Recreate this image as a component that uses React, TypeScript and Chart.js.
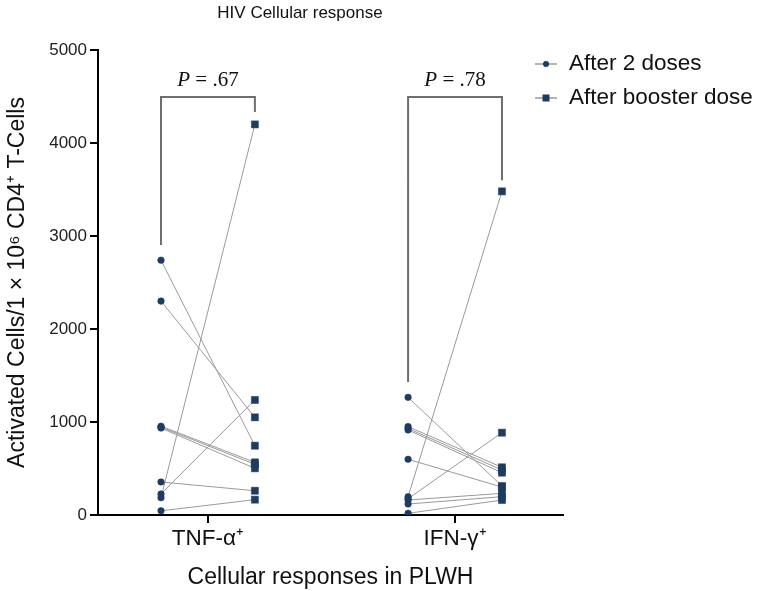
import { useEffect, useRef } from "react";
import { Chart, registerables } from "chart.js";

Chart.register(...registerables);

const categories = ["TNF-α⁺", "IFN-γ⁺"];
const categoryPositions = [1, 2];
const tnfAfter2Doses = [2740, 2300, 955, 945, 935, 355, 226, 186, 45];
const tnfAfterBooster = [745, 1050, 566, 545, 502, 261, 1237, 4200, 165];
const ifnAfter2Doses = [1265, 950, 930, 914, 599, 197, 175, 161, 118, 18];
const ifnAfterBooster = [312, 513, 484, 455, 300, 3480, 885, 233, 197, 161];
const pValueLabels = [".67", ".78"];
const bracketTop = [4495, 4495];
const bracketLeftEnd = [2903, 1430];
const bracketRightEnd = [4333, 3600];
const yTicks = [0, 1000, 2000, 3000, 4000, 5000];
const seriesNames = ["After 2 doses", "After booster dose"];
const chartTitle = "HIV Cellular response";
const xTitle = "Cellular responses in PLWH";
const yTitle = "Activated Cells/1 × 10⁶ CD4⁺ T-Cells";

const SANS = "'Liberation Sans', Arial, sans-serif";
const SERIF = "'Liberation Serif', 'Times New Roman', serif";
const NAVY = "#1d3c62";
const LINE_GREY = "#9a9a9a";
const BRACKET_GREY = "#6e6e6e";
const OFFSET = 0.19;

const groups = [
  { before: tnfAfter2Doses, after: tnfAfterBooster },
  { before: ifnAfter2Doses, after: ifnAfterBooster },
];

const overlayPlugin = {
  id: "overlay",
  afterDraw(chart: any) {
    const ctx = chart.ctx as CanvasRenderingContext2D;
    const xs = chart.scales.x;
    const ys = chart.scales.y;
    ctx.save();
    // title
    ctx.fillStyle = "#111";
    ctx.font = `17px ${SANS}`;
    ctx.textAlign = "center";
    ctx.textBaseline = "middle";
    ctx.fillText(chartTitle, 300, 13);
    // P labels
    ctx.textAlign = "left";
    ctx.textBaseline = "alphabetic";
    pValueLabels.forEach((lab, i) => {
      const cx = xs.getPixelForValue(categoryPositions[i]);
      const y = ys.getPixelForValue(bracketTop[i]) - 11;
      ctx.font = `italic 21px ${SERIF}`;
      const wP = ctx.measureText("P").width;
      ctx.font = `21px ${SERIF}`;
      const rest = " = " + lab;
      const wR = ctx.measureText(rest).width;
      const x0 = cx - (wP + wR) / 2;
      ctx.font = `italic 21px ${SERIF}`;
      ctx.fillText("P", x0, y);
      ctx.font = `21px ${SERIF}`;
      ctx.fillText(rest, x0 + wP, y);
    });
    // legend
    const legendYs = [64, 98];
    seriesNames.forEach((name, i) => {
      const y = legendYs[i];
      ctx.strokeStyle = LINE_GREY;
      ctx.lineWidth = 1.5;
      ctx.beginPath();
      ctx.moveTo(535, y);
      ctx.lineTo(557, y);
      ctx.stroke();
      ctx.fillStyle = NAVY;
      if (i === 0) {
        ctx.beginPath();
        ctx.arc(546, y, 3, 0, Math.PI * 2);
        ctx.fill();
      } else {
        ctx.fillRect(542.5, y - 3.5, 7, 7);
      }
      ctx.fillStyle = "#111";
      ctx.font = `22.5px ${SANS}`;
      ctx.textAlign = "left";
      ctx.textBaseline = "middle";
      ctx.fillText(name, 569, y);
    });
    ctx.restore();
  },
};

export default function App() {
  const ref = useRef<HTMLCanvasElement | null>(null);

  useEffect(() => {
    document.body.style.margin = "0";
    if (!ref.current) return;

    const pairDatasets: any[] = [];
    const beforePts: any[] = [];
    const afterPts: any[] = [];
    groups.forEach((g, gi) => {
      const c = categoryPositions[gi];
      g.before.forEach((v, i) => {
        const a = g.after[i];
        pairDatasets.push({
          data: [
            { x: c - OFFSET, y: v },
            { x: c + OFFSET, y: a },
          ],
          showLine: true,
          borderColor: LINE_GREY,
          borderWidth: 1,
          pointRadius: 0,
          order: 2,
        });
        beforePts.push({ x: c - OFFSET, y: v });
        afterPts.push({ x: c + OFFSET, y: a });
      });
    });

    const bracketDatasets = categoryPositions.map((c, i) => ({
      data: [
        { x: c - OFFSET, y: bracketLeftEnd[i] },
        { x: c - OFFSET, y: bracketTop[i] },
        { x: c + OFFSET, y: bracketTop[i] },
        { x: c + OFFSET, y: bracketRightEnd[i] },
      ],
      showLine: true,
      borderColor: BRACKET_GREY,
      borderWidth: 2,
      pointRadius: 0,
      order: 3,
    }));

    const chart = new Chart(ref.current, {
      type: "scatter",
      data: {
        datasets: [
          {
            label: seriesNames[0],
            data: beforePts,
            pointStyle: "circle",
            pointRadius: 3.3,
            backgroundColor: NAVY,
            borderColor: NAVY,
            borderWidth: 0.5,
            order: 0,
          },
          {
            label: seriesNames[1],
            data: afterPts,
            pointStyle: "rect",
            pointRadius: 5,
            backgroundColor: NAVY,
            borderColor: NAVY,
            borderWidth: 0.5,
            order: 0,
          },
          ...pairDatasets,
          ...bracketDatasets,
        ] as any,
      },
      options: {
        animation: false,
        responsive: false,
        layout: { padding: { left: 0, right: 197, top: 50, bottom: 0 } },
        plugins: {
          legend: { display: false },
          tooltip: { enabled: false },
          title: { display: false },
        },
        scales: {
          x: {
            type: "linear",
            min: 0.555,
            max: 2.437,
            afterBuildTicks: (s: any) => {
              s.ticks = categoryPositions.map((v) => ({ value: v }));
            },
            afterFit: (s: any) => {
              s.height = 76;
            },
            ticks: {
              callback: (v: any) => {
                const idx = categoryPositions.indexOf(Number(v));
                return idx >= 0 ? categories[idx] : "";
              },
              font: { family: SANS, size: 22.5 },
              color: "#111",
              padding: 2,
              maxRotation: 0,
              autoSkip: false,
            },
            grid: {
              display: true,
              drawOnChartArea: false,
              drawTicks: true,
              tickLength: 8,
              color: "#000",
              lineWidth: 2,
            },
            border: { display: true, color: "#000", width: 2 },
            title: {
              display: true,
              text: xTitle,
              font: { family: SANS, size: 23 },
              color: "#111",
              padding: { top: 0, bottom: 0 },
            },
          },
          y: {
            type: "linear",
            min: 0,
            max: 5000,
            afterBuildTicks: (s: any) => {
              s.ticks = yTicks.map((v) => ({ value: v }));
            },
            afterFit: (s: any) => {
              s.width = 98;
            },
            ticks: {
              callback: (v: any) => String(v),
              font: { family: SANS, size: 17 },
              color: "#222",
              padding: 3,
            },
            grid: {
              display: true,
              drawOnChartArea: false,
              drawTicks: true,
              tickLength: 8,
              color: "#000",
              lineWidth: 2,
            },
            border: { display: true, color: "#000", width: 2 },
            title: {
              display: true,
              text: yTitle,
              font: { family: SANS, size: 23 },
              color: "#111",
              padding: { top: 4, bottom: 0 },
            },
          },
        },
      } as any,
      plugins: [overlayPlugin],
    });

    return () => chart.destroy();
  }, []);

  return (
    <div style={{ width: 760, height: 591, overflow: "hidden" }}>
      <canvas ref={ref} width={760} height={591} style={{ display: "block" }} />
    </div>
  );
}
